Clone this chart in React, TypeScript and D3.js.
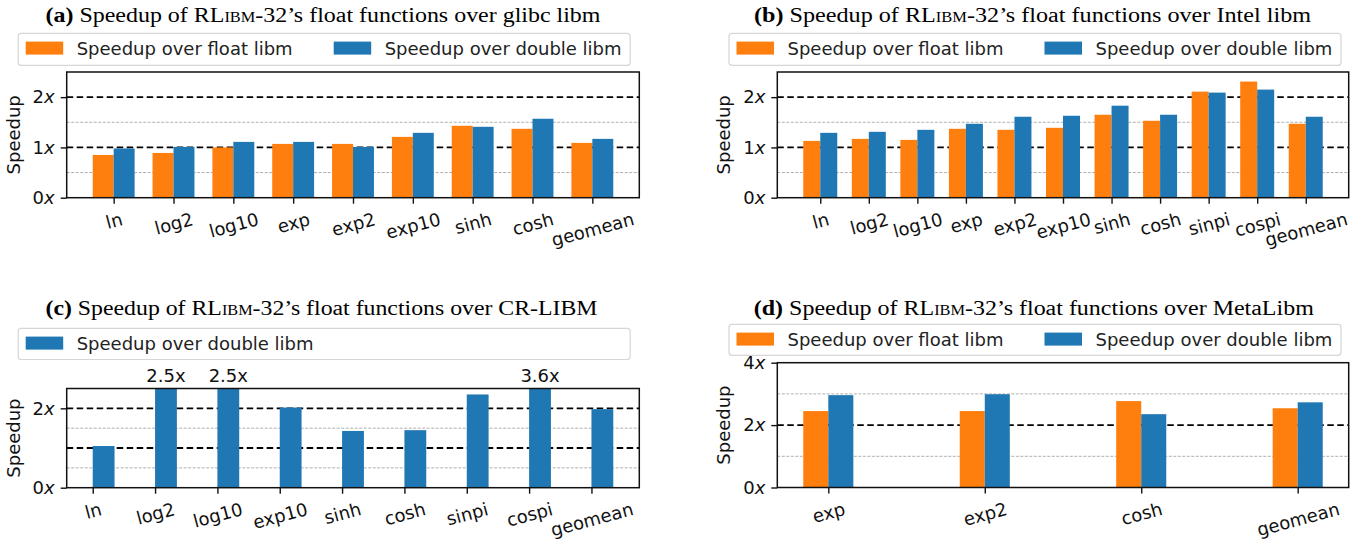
import React, { useEffect, useRef } from "react";
import * as d3 from "d3";

// ---- data ----
const glibcFuncs = ["ln", "log2", "log10", "exp", "exp2", "exp10", "sinh", "cosh", "geomean"];
const glibcFloat = [0.85, 0.89, 1.0, 1.07, 1.07, 1.21, 1.43, 1.37, 1.09];
const glibcDouble = [0.98, 1.01, 1.11, 1.11, 1.01, 1.29, 1.41, 1.57, 1.17];

const intelFuncs = ["ln", "log2", "log10", "exp", "exp2", "exp10", "sinh", "cosh", "sinpi", "cospi", "geomean"];
const intelFloat = [1.13, 1.17, 1.15, 1.37, 1.35, 1.39, 1.65, 1.53, 2.11, 2.31, 1.47];
const intelDouble = [1.29, 1.31, 1.35, 1.47, 1.61, 1.63, 1.83, 1.65, 2.09, 2.15, 1.61];

const crFuncs = ["ln", "log2", "log10", "exp10", "sinh", "cosh", "sinpi", "cospi", "geomean"];
const crDouble = [1.05, 2.5, 2.5, 2.02, 1.43, 1.45, 2.35, 3.6, 1.98];

const metaFuncs = ["exp", "exp2", "cosh", "geomean"];
const metaFloat = [2.45, 2.45, 2.77, 2.54];
const metaDouble = [2.96, 2.99, 2.35, 2.73];

const floatLabel = "Speedup over float libm";
const doubleLabel = "Speedup over double libm";

const ORANGE = "#ff7f0e";
const BLUE = "#1f77b4";
const FONT = "'DejaVu Sans', sans-serif";
const SERIF = "'Liberation Serif', 'DejaVu Serif', serif";
const FS = 18;

const panels = [
  {
    tag: "(a)", lib: "glibc libm", titleX: 45.5, titleW: 555, titleY: 22,
    cats: glibcFuncs,
    series: [{ name: floatLabel, values: glibcFloat, color: ORANGE }, { name: doubleLabel, values: glibcDouble, color: BLUE }],
    box: { x0: 66.7, x1: 639.3, y0: 72, y1: 197.7 }, yMax: 2.5, yTicks: [0, 1, 2], black: [1, 2], gray: [0.5, 1.5],
    barWidth: 0.35, legend: { x: 18.2, y: 33.3, h: 32 }, ylabX: 13.5,
  },
  {
    tag: "(b)", lib: "Intel libm", titleX: 754, titleW: 557, titleY: 22,
    cats: intelFuncs,
    series: [{ name: floatLabel, values: intelFloat, color: ORANGE }, { name: doubleLabel, values: intelDouble, color: BLUE }],
    box: { x0: 777.3, x1: 1348.7, y0: 72, y1: 197.7 }, yMax: 2.5, yTicks: [0, 1, 2], black: [1, 2], gray: [0.5, 1.5],
    barWidth: 0.35, legend: { x: 729, y: 33.3, h: 32 }, ylabX: 724,
  },
  {
    tag: "(c)", lib: "CR-LIBM", titleX: 45.5, titleW: 552, titleY: 315,
    cats: crFuncs,
    series: [{ name: doubleLabel, values: crDouble, color: BLUE }],
    box: { x0: 66.7, x1: 639.3, y0: 388.5, y1: 487.7 }, yMax: 2.5, yTicks: [0, 2], black: [1, 2], gray: [0.5, 1.5],
    barWidth: 0.35, legend: { x: 18.2, y: 328.3, h: 31.2 }, ylabX: 13.5,
  },
  {
    tag: "(d)", lib: "MetaLibm", titleX: 753.8, titleW: 560, titleY: 315,
    cats: metaFuncs,
    series: [{ name: floatLabel, values: metaFloat, color: ORANGE }, { name: doubleLabel, values: metaDouble, color: BLUE }],
    box: { x0: 777.3, x1: 1348.7, y0: 362.7, y1: 487.5 }, yMax: 4, yTicks: [0, 2, 4], black: [2], gray: [1, 3],
    barWidth: 0.16, legend: { x: 729, y: 324.3, h: 31 }, ylabX: 724,
  },
];

function drawPanel(root, p) {
  const g = root.append("g");
  const { x0, x1, y0, y1 } = p.box;
  const n = p.cats.length;
  const w = p.barWidth;
  const offsets = p.series.length === 2 ? [-w / 2, w / 2] : [w / 2];
  const lo = d3.min(offsets) - w / 2;
  const hi = n - 1 + d3.max(offsets) + w / 2;
  const pad = 0.05 * (hi - lo);
  const x = d3.scaleLinear().domain([lo - pad, hi + pad]).range([x0, x1]);
  const y = d3.scaleLinear().domain([0, p.yMax]).range([y1, y0]);

  // title
  const t = g.append("text")
    .attr("x", p.titleX).attr("y", p.titleY)
    .attr("font-family", SERIF).attr("font-size", 20.5)
    .attr("textLength", p.titleW).attr("lengthAdjust", "spacingAndGlyphs");
  t.append("tspan").attr("font-weight", "bold").text(p.tag);
  t.append("tspan").text(" Speedup of RL");
  t.append("tspan").style("font-variant", "small-caps").text("ibm");
  t.append("tspan").text("-32\u2019s float functions over " + p.lib);

  // legend
  const L = p.legend;
  const lg = g.append("g");
  lg.append("rect").attr("x", L.x).attr("y", L.y).attr("width", 612).attr("height", L.h)
    .attr("rx", 3).attr("fill", "white").attr("stroke", "#d6d6d6").attr("stroke-width", 1.2);
  p.series.forEach((s, i) => {
    const ox = L.x + 7.5 + i * 308;
    lg.append("rect").attr("x", ox).attr("y", L.y + 8.3).attr("width", 37.5).attr("height", 13)
      .attr("fill", s.color);
    lg.append("text").attr("x", ox + 51).attr("y", L.y + 15)
      .attr("dy", "0.35em").attr("font-family", FONT).attr("font-size", FS).attr("fill", "#222")
      .text(s.name);
  });

  // grid lines (behind bars)
  g.selectAll(null).data(p.gray).join("line")
    .attr("x1", x0).attr("x2", x1).attr("y1", (d) => y(d)).attr("y2", (d) => y(d))
    .attr("stroke", "#b0b0b0").attr("stroke-width", 1).attr("stroke-dasharray", "3,1.5");
  g.selectAll(null).data(p.black).join("line")
    .attr("x1", x0).attr("x2", x1).attr("y1", (d) => y(d)).attr("y2", (d) => y(d))
    .attr("stroke", "#000").attr("stroke-width", 1.9).attr("stroke-dasharray", "6.5,3.5");

  // bars
  p.series.forEach((s, si) => {
    g.selectAll(null).data(s.values).join("rect")
      .attr("x", (d, i) => x(i + offsets[si] - w / 2))
      .attr("width", x(w) - x(0))
      .attr("y", (d) => y(Math.min(d, p.yMax)))
      .attr("height", (d) => y(0) - y(Math.min(d, p.yMax)))
      .attr("fill", s.color);
    // value labels for bars cut at the top
    g.selectAll(null).data(s.values.map((v, i) => ({ v, i })).filter((d) => d.v >= p.yMax)).join("text")
      .attr("x", (d) => x(d.i + offsets[si]))
      .attr("y", y0 - 12.5).attr("dy", "0.35em")
      .attr("text-anchor", "middle").attr("font-family", FONT).attr("font-size", FS).attr("fill", "#111")
      .text((d) => d.v.toFixed(1) + "x");
  });

  // frame
  g.append("rect").attr("x", x0).attr("y", y0).attr("width", x1 - x0).attr("height", y1 - y0)
    .attr("fill", "none").attr("stroke", "#111").attr("stroke-width", 1.5);

  // y axis
  const ya = g.append("g").attr("transform", `translate(${x0},0)`)
    .call(d3.axisLeft(y).tickValues(p.yTicks).tickSize(6).tickPadding(6));
  ya.select(".domain").remove();
  ya.selectAll("line").attr("stroke", "#111").attr("stroke-width", 1.4);
  ya.selectAll("text").attr("font-family", FONT).attr("font-size", FS).attr("fill", "#111")
    .each(function (d) {
      const s = d3.select(this).text(null);
      s.append("tspan").text(d);
      s.append("tspan").attr("font-style", "italic").text("x");
    });

  // x axis
  const xa = g.append("g").attr("transform", `translate(0,${y1})`)
    .call(d3.axisBottom(x).tickValues(d3.range(n)).tickFormat((i) => p.cats[i]).tickSize(6));
  xa.select(".domain").remove();
  xa.selectAll("line").attr("stroke", "#111").attr("stroke-width", 1.4);
  const a = (15 * Math.PI) / 180;
  xa.selectAll("text").attr("font-family", FONT).attr("font-size", FS).attr("fill", "#111")
    .attr("text-anchor", "middle").attr("dy", "0.35em")
    .each(function () {
      const tw = this.getComputedTextLength();
      const bh = tw * Math.sin(a) + FS * Math.cos(a);
      const cy = 12.2 + bh / 2;
      d3.select(this).attr("x", 0).attr("y", cy).attr("transform", `rotate(-15,0,${cy})`);
    });

  // y label
  const cyl = (y0 + y1) / 2;
  g.append("text").attr("transform", `translate(${p.ylabX},${cyl}) rotate(-90)`)
    .attr("text-anchor", "middle").attr("dy", "0.35em")
    .attr("font-family", FONT).attr("font-size", FS).attr("fill", "#111")
    .text("Speedup");
}

export default function App() {
  const ref = useRef(null);
  useEffect(() => {
    const svg = d3.select(ref.current);
    svg.selectAll("*").remove();
    panels.forEach((p) => drawPanel(svg, p));
  }, []);
  return (
    <svg
      ref={ref}
      width={1359}
      height={542}
      style={{ position: "absolute", left: 0, top: 0, background: "white" }}
    />
  );
}
